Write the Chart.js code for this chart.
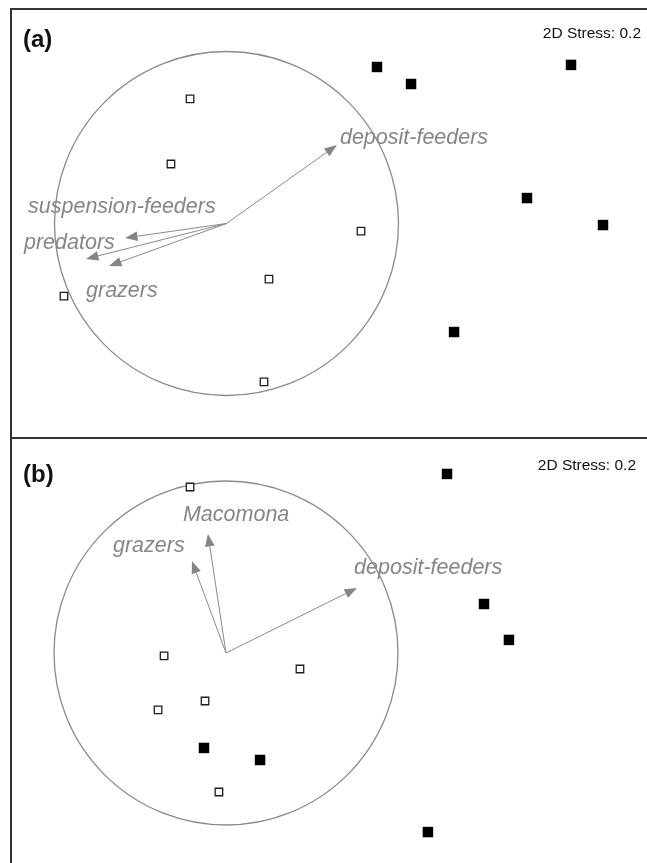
<!DOCTYPE html>
<html>
<head>
<meta charset="utf-8">
<script src="https://cdn.jsdelivr.net/npm/chart.js@4/dist/chart.umd.min.js"></script>
<style>
  html, body { margin: 0; padding: 0; background: #fff; width: 647px; height: 863px; overflow: hidden; }
  .panel { position: absolute; left: 10px; width: 637px; }
  #panelA { top: 8px; height: 430px; }
  #panelB { top: 438px; height: 425px; }
  .rule { position: absolute; background: #333; z-index: 5; }
</style>
</head>
<body>
<div class="panel" id="panelA"><canvas id="chartA"></canvas></div>
<div class="panel" id="panelB"><canvas id="chartB"></canvas></div>
<div class="rule" style="left:10px; top:8px; width:637px; height:2px"></div>
<div class="rule" style="left:10px; top:437px; width:637px; height:2px"></div>
<div class="rule" style="left:10px; top:8px; width:2px; height:855px"></div>
<script>
// ---- Panel (a): nMDS ordination with trophic-group vectors ----
const aOpenSites   = [[-0.212, 0.724], [-0.323, 0.346], [-0.945, -0.422], [0.247, -0.323], [0.218, -0.921], [0.782, -0.044]];
const aFilledSites = [[0.875, 0.910], [1.073, 0.811], [2.003, 0.922], [1.747, 0.148], [2.189, -0.009], [1.323, -0.631]];
const aVectorNames = ['deposit-feeders', 'suspension-feeders', 'predators', 'grazers'];
const aVectorX     = [0.642, -0.590, -0.817, -0.683];
const aVectorY     = [0.456, -0.084, -0.206, -0.247];
const aXRange      = [-1.2587, 2.4448];
const aYRange      = [-1.2471, 1.2529];

// ---- Panel (b) ----
const bOpenSites   = [[-0.209, 0.965], [-0.360, -0.017], [0.430, -0.093], [-0.122, -0.279], [-0.395, -0.331], [-0.041, -0.808]];
const bFilledSites = [[-0.128, -0.552], [0.198, -0.622], [1.285, 1.041], [1.500, 0.285], [1.645, 0.076], [1.174, -1.041]];
const bVectorNames = ['Macomona', 'grazers', 'deposit-feeders'];
const bVectorX     = [-0.105, -0.198, 0.762];
const bVectorY     = [0.692, 0.535, 0.378];
const bXRange      = [-1.2558, 2.4477];
const bYRange      = [-1.2209, 1.2500];

const stressText = '2D Stress: 0.2';
const circleRadius = 1;   // correlation circle, in ordination units

const toPoints = arr => arr.map(p => ({ x: p[0], y: p[1] }));

// draws the correlation circle, vectors with arrowheads, panel tag and stress value
const overlayPlugin = {
  id: 'ordinationOverlay',
  beforeDatasetsDraw(chart, args, opts) {
    const { ctx } = chart;
    const xs = chart.scales.x, ys = chart.scales.y;
    const cx = xs.getPixelForValue(0), cy = ys.getPixelForValue(0);
    const r = xs.getPixelForValue(circleRadius) - cx;
    ctx.save();
    ctx.strokeStyle = '#8a8a8a';
    ctx.lineWidth = 1.3;
    ctx.beginPath();
    ctx.arc(cx, cy, r, 0, Math.PI * 2);
    ctx.stroke();

    // vectors
    const headLen = 12.5, headHalf = 4.8;
    opts.names.forEach((name, i) => {
      const tx = xs.getPixelForValue(opts.vx[i]);
      const ty = ys.getPixelForValue(opts.vy[i]);
      const ang = Math.atan2(ty - cy, tx - cx);
      const bx = tx - headLen * Math.cos(ang), by = ty - headLen * Math.sin(ang);
      ctx.strokeStyle = '#8a8a8a';
      ctx.lineWidth = 1;
      ctx.beginPath();
      ctx.moveTo(cx, cy);
      ctx.lineTo(bx, by);
      ctx.stroke();
      ctx.fillStyle = '#858585';
      ctx.beginPath();
      ctx.moveTo(tx, ty);
      ctx.lineTo(bx + headHalf * Math.sin(ang), by - headHalf * Math.cos(ang));
      ctx.lineTo(bx - headHalf * Math.sin(ang), by + headHalf * Math.cos(ang));
      ctx.closePath();
      ctx.fill();
      const off = opts.labelOffsets[i];
      ctx.font = 'italic 21.5px "Liberation Sans", Arial, sans-serif';
      ctx.textAlign = 'left';
      ctx.textBaseline = 'alphabetic';
      ctx.fillStyle = '#868686';
      ctx.fillText(name, tx + off[0], ty + off[1]);
    });

    // panel tag
    ctx.fillStyle = '#111';
    ctx.font = 'bold 24px "Liberation Sans", Arial, sans-serif';
    ctx.textAlign = 'left';
    ctx.fillText(opts.tag, opts.tagPos[0], opts.tagPos[1]);
    // stress
    ctx.font = '15.5px "Liberation Sans", Arial, sans-serif';
    ctx.textAlign = 'right';
    ctx.fillText(stressText, opts.stressPos[0], opts.stressPos[1]);
    ctx.restore();
  }
};

function makeChart(id, openSites, filledSites, xr, yr, overlay) {
  return new Chart(document.getElementById(id), {
    type: 'scatter',
    data: {
      datasets: [
        {
          label: 'open',
          data: toPoints(openSites),
          pointStyle: 'rect',
          radius: 5.3,
          backgroundColor: '#fff',
          borderColor: '#1e1e1e',
          borderWidth: 1.3
        },
        {
          label: 'filled',
          data: toPoints(filledSites),
          pointStyle: 'rect',
          radius: 7.4,
          backgroundColor: '#000',
          borderColor: '#000',
          borderWidth: 0
        }
      ]
    },
    options: {
      responsive: true,
      maintainAspectRatio: false,
      animation: false,
      layout: { padding: 0, autoPadding: false },
      scales: {
        x: { type: 'linear', min: xr[0], max: xr[1], display: false },
        y: { type: 'linear', min: yr[0], max: yr[1], display: false }
      },
      plugins: {
        legend: { display: false },
        tooltip: { enabled: false },
        ordinationOverlay: overlay
      }
    },
    plugins: [overlayPlugin]
  });
}

makeChart('chartA', aOpenSites, aFilledSites, aXRange, aYRange, {
  names: aVectorNames, vx: aVectorX, vy: aVectorY,
  labelOffsets: [[3, -1], [-97, -25], [-62, -10], [-23, 31]],
  tag: '(a)', tagPos: [13, 39], stressPos: [631, 30]
});

makeChart('chartB', bOpenSites, bFilledSites, bXRange, bYRange, {
  names: bVectorNames, vx: bVectorX, vy: bVectorY,
  labelOffsets: [[-25, -13], [-79, -9], [-3, -14]],
  tag: '(b)', tagPos: [13, 44], stressPos: [626, 32]
});
</script>
</body>
</html>
